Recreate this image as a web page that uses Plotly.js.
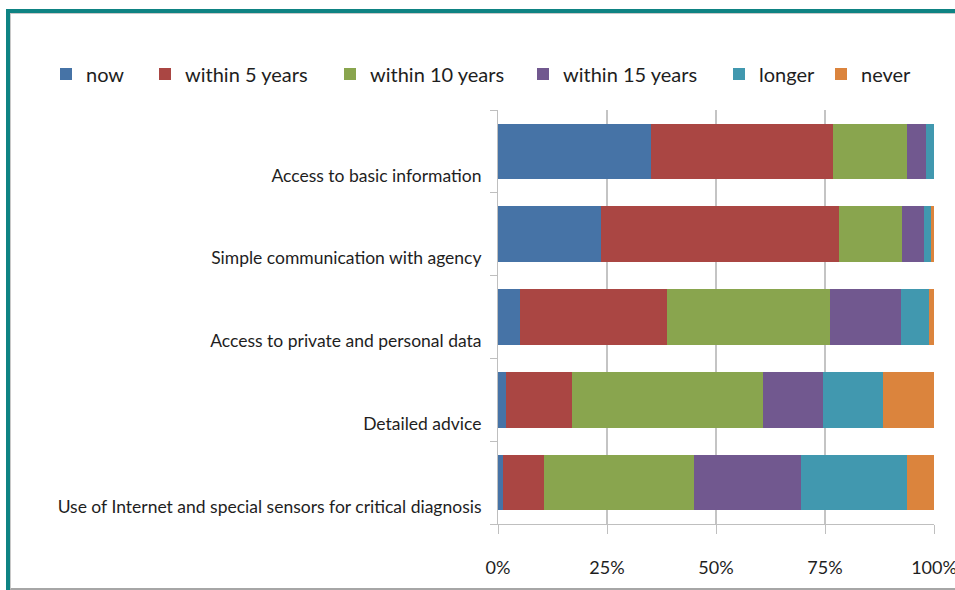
<!DOCTYPE html>
<html>
<head>
<meta charset="utf-8">
<script src="https://cdn.plot.ly/plotly-3.0.1.min.js"></script>
<style>
html,body{margin:0;padding:0;background:#fff;}
#wrap{position:relative;width:955px;height:590px;overflow:hidden;}
#chart{position:absolute;left:0;top:0;width:955px;height:590px;}
#frame{position:absolute;left:6px;top:9px;width:960px;height:600px;border-left:4px solid #0e8383;border-top:4px solid #0e8383;pointer-events:none;}
#inner{position:absolute;left:10px;top:13px;width:960px;height:574px;border-left:1px solid #c8c8c8;border-top:1px solid #c8c8c8;border-bottom:2px solid #a6a6a6;pointer-events:none;}
</style>
</head>
<body>
<div id="wrap">
  <div id="chart"></div>
  <div id="frame"></div>
  <div id="inner"></div>
</div>
<script>
// ---- data (percent of respondents) ----
const categories = [
  "Access to basic information",
  "Simple communication with agency",
  "Access to private and personal data",
  "Detailed advice",
  "Use of Internet and special sensors for critical diagnosis"
];
const seriesNames = ["now", "within 5 years", "within 10 years", "within 15 years", "longer", "never"];
const now       = [35.0, 23.7,  5.0,  1.8,  1.2];
const within5   = [41.9, 54.5, 33.7, 15.1,  9.3];
const within10  = [16.9, 14.4, 37.5, 43.8, 34.4];
const within15  = [ 4.4,  5.0, 16.3, 13.8, 24.5];
const longer    = [ 1.8,  1.8,  6.3, 13.7, 24.3];
const never     = [ 0.0,  0.6,  1.2, 11.8,  6.3];
const xTicks = [0, 25, 50, 75, 100];

// ---- styling ----
const colors = ["#4673a6", "#aa4643", "#89a54e", "#71588f", "#4198af", "#db843d"];
const legendLeft = [46, 145, 330, 523, 719, 821]; // px position of each legend entry
const values = [now, within5, within10, within15, longer, never];
const FONT = "Lato, 'Liberation Sans', sans-serif";
const W = 955, H = 590;

const traces = values.map((v, i) => ({
  type: "bar",
  orientation: "h",
  name: seriesNames[i],
  legend: i === 0 ? "legend" : "legend" + (i + 1),
  y: categories,
  x: v,
  marker: {color: colors[i], line: {width: 0}},
  hoverinfo: "skip"
}));

const layout = {
  width: W,
  height: H,
  paper_bgcolor: "rgba(0,0,0,0)",
  plot_bgcolor: "#ffffff",
  margin: {l: 10, r: 21, t: 110, b: 66, pad: 0, autoexpand: false},
  barmode: "stack",
  bargap: 0.33,
  showlegend: true,
  font: {family: FONT, color: "#1e1e1e", size: 18},
  xaxis: {
    domain: [(498 - 10) / (W - 10 - 21), 1],
    range: [0, 100],
    tickvals: xTicks,
    ticktext: xTicks.map(t => t + "%"),
    showgrid: true,
    gridcolor: "#c4c4c4",
    gridwidth: 1.5,
    zeroline: false,
    showline: true,
    linecolor: "#bfbfbf",
    linewidth: 1,
    ticks: "outside",
    ticklen: 9,
    tickcolor: "#bfbfbf",
    tickfont: {family: FONT, size: 18, color: "#1e1e1e"},
    ticklabelstandoff: 18,
    ticklabeloverflow: "allow",
    fixedrange: true
  },
  yaxis: {
    type: "category",
    categoryorder: "array",
    categoryarray: categories.slice().reverse(),
    showgrid: false,
    zeroline: false,
    showline: true,
    linecolor: "#bfbfbf",
    linewidth: 1,
    ticks: "outside",
    tickson: "boundaries",
    ticklen: 7,
    tickcolor: "#bfbfbf",
    tickfont: {family: FONT, size: 17.5, color: "#1e1e1e"},
    ticklabelshift: 24,
    ticklabelstandoff: 12,
    fixedrange: true
  }
};

legendLeft.forEach((px, i) => {
  layout[i === 0 ? "legend" : "legend" + (i + 1)] = {
    orientation: "h",
    xref: "container", yref: "container",
    x: px / W, xanchor: "left",
    y: 1 - 74 / H, yanchor: "middle",
    font: {family: FONT, size: 20, color: "#1e1e1e"},
    itemclick: false, itemdoubleclick: false,
    bgcolor: "rgba(0,0,0,0)"
  };
});

Plotly.newPlot("chart", traces, layout, {displayModeBar: false, staticPlot: true});
</script>
</body>
</html>
